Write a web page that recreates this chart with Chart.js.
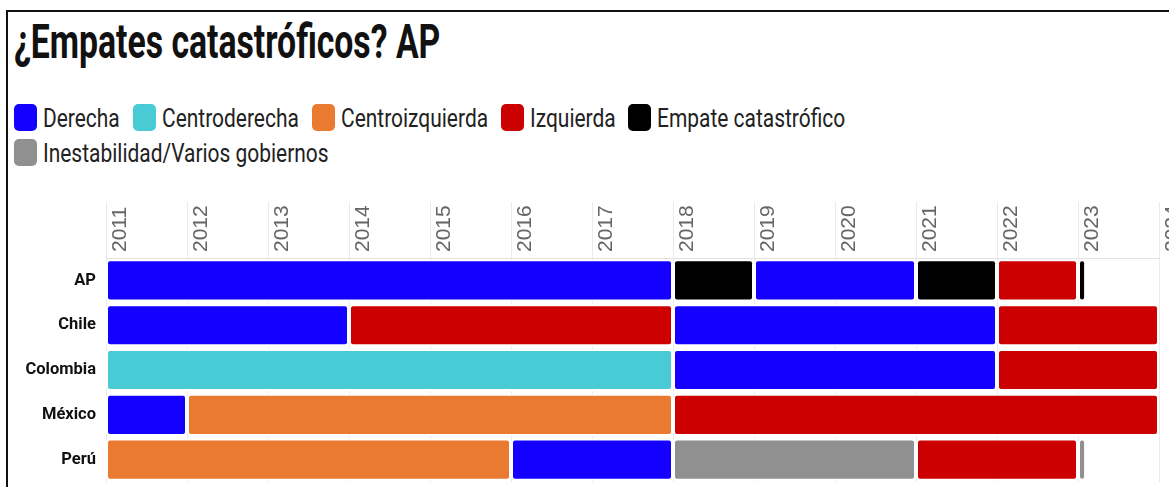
<!DOCTYPE html>
<html>
<head>
<meta charset="utf-8">
<script src="https://cdn.jsdelivr.net/npm/chart.js@4.4.1/dist/chart.umd.min.js"></script>
<style>
  html, body { margin: 0; padding: 0; background: #fff; width: 1169px; height: 487px; overflow: hidden; }
  #frame { position: absolute; left: 6px; top: 10px; width: 1250px; height: 600px; border: 2px solid #111; box-sizing: border-box; }
  #title { position: absolute; left: 14px; top: 13px; font: 700 48px Roboto, sans-serif; color: #111; white-space: nowrap; transform-origin: 0 0; }
  #legend { position: absolute; left: 14px; top: 104px; width: 1140px; display: flex; flex-wrap: wrap; row-gap: 8px; }
  .item { display: flex; align-items: center; height: 27px; margin-right: 13px; white-space: nowrap; }
  .box { width: 23px; height: 27px; border-radius: 5px; flex: none; }
  .lbl { display: inline-block; margin-left: 6px; font: 400 26px Roboto, sans-serif; color: #222; transform-origin: 0 50%; }
  #wrap { position: absolute; left: 0; top: 190px; width: 1169px; height: 312px; }
</style>
</head>
<body>
<div id="frame"></div>
<div id="title">¿Empates catastróficos? AP</div>
<div id="legend"></div>
<div id="wrap"><canvas id="chart"></canvas></div>
<script>
// filas y categorías
const countries = ['AP', 'Chile', 'Colombia', 'México', 'Perú'];
const categories = ['Derecha', 'Centroderecha', 'Centroizquierda', 'Izquierda', 'Empate catastrófico', 'Inestabilidad/Varios gobiernos'];
const years = [2011, 2012, 2013, 2014, 2015, 2016, 2017, 2018, 2019, 2020, 2021, 2022, 2023, 2024];

// periodos: [inicio, fin, categoría]
const apPeriods = [[2011, 2018, 'Derecha'], [2018, 2019, 'Empate catastrófico'], [2019, 2021, 'Derecha'], [2021, 2022, 'Empate catastrófico'], [2022, 2023, 'Izquierda'], [2023, 2023.1, 'Empate catastrófico']];
const chilePeriods = [[2011, 2014, 'Derecha'], [2014, 2018, 'Izquierda'], [2018, 2022, 'Derecha'], [2022, 2024, 'Izquierda']];
const colombiaPeriods = [[2011, 2018, 'Centroderecha'], [2018, 2022, 'Derecha'], [2022, 2024, 'Izquierda']];
const mexicoPeriods = [[2011, 2012, 'Derecha'], [2012, 2018, 'Centroizquierda'], [2018, 2024, 'Izquierda']];
const peruPeriods = [[2011, 2016, 'Centroizquierda'], [2016, 2018, 'Derecha'], [2018, 2021, 'Inestabilidad/Varios gobiernos'], [2021, 2023, 'Izquierda'], [2023, 2023.1, 'Inestabilidad/Varios gobiernos']];

const colors = {
    'Derecha': '#1300ff',
    'Centroderecha': '#49cbd6',
    'Centroizquierda': '#e97a30',
    'Izquierda': '#cc0000',
    'Empate catastrófico': '#000000',
    'Inestabilidad/Varios gobiernos': '#909090'
};

const periodsByCountry = [apPeriods, chilePeriods, colombiaPeriods, mexicoPeriods, peruPeriods];

// un dataset por categoría, con todos sus tramos
const datasets = categories.map((cat) => {
    const data = [];
    periodsByCountry.forEach((periods, i) => {
        periods.filter((p) => p[2] === cat).forEach((p) => {
            data.push({ x: [p[0], p[1]], y: countries[i] });
        });
    });
    return {
        label: cat,
        data,
        backgroundColor: colors[cat],
        borderColor: '#ffffff',
        borderWidth: 2,
        borderSkipped: false,
        borderRadius: 4,
        grouped: false,
        barPercentage: 1,
        categoryPercentage: 0.94
    };
});

// leyenda en html
const legend = document.getElementById('legend');
categories.forEach((cat) => {
    const item = document.createElement('div');
    item.className = 'item';
    item.innerHTML = '<span class="box" style="background:' + colors[cat] + '"></span><span class="lbl">' + cat + '</span>';
    legend.appendChild(item);
});

// texto condensado: Roboto estrechado a lo ancho del original
const title = document.getElementById('title');
title.style.transform = 'scaleX(' + (426 / title.offsetWidth) + ')';
const lbls = [...document.querySelectorAll('.lbl')];
const squeeze = 286 / lbls[lbls.length - 1].offsetWidth;
lbls.forEach((el) => {
    const w = el.offsetWidth;
    el.style.transform = 'scaleX(' + squeeze + ')';
    el.style.marginRight = (-(1 - squeeze) * w) + 'px';
});

const ctx = document.getElementById('chart').getContext('2d');
new Chart(ctx, {
    type: 'bar',
    data: { labels: countries, datasets },
    options: {
        indexAxis: 'y',
        responsive: true,
        maintainAspectRatio: false,
        animation: false,
        layout: { padding: { top: 12, right: 10, bottom: 0, left: 0 } },
        plugins: {
            legend: { display: false },
            tooltip: { enabled: false }
        },
        scales: {
            x: {
                type: 'linear',
                position: 'top',
                min: years[0],
                max: years[years.length - 1],
                afterBuildTicks: (scale) => { scale.ticks = years.map((v) => ({ value: v })); },
                afterFit: (scale) => { scale.height = 56; },
                ticks: {
                    minRotation: 90,
                    maxRotation: 90,
                    autoSkip: false,
                    labelOffset: 39,
                    padding: -50,
                    color: '#666',
                    font: { family: '"Liberation Sans", Arial, sans-serif', size: 21 },
                    callback: (v) => String(v)
                },
                grid: { color: '#ebebeb', tickLength: 56 },
                border: { display: true, color: '#e2e2e2' }
            },
            y: {
                afterFit: (scale) => { scale.width = 106; },
                grid: { display: false, drawTicks: false },
                border: { display: false },
                ticks: {
                    color: '#111',
                    padding: 10,
                    font: { family: 'Roboto, sans-serif', weight: 'bold', size: 16.5 }
                }
            }
        }
    }
});
</script>
</body>
</html>
